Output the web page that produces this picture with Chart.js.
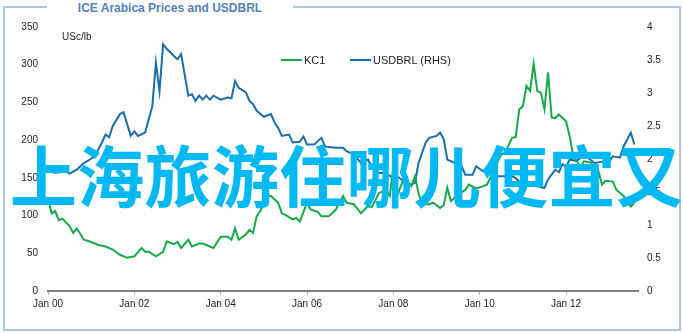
<!DOCTYPE html>
<html>
<head>
<meta charset="utf-8">
<script src="https://cdn.jsdelivr.net/npm/chart.js@4/dist/chart.umd.min.js"></script>
<style>
  body { margin: 0; background: #fff; }
  #wrap { position: relative; width: 683px; height: 333px; overflow: hidden; font-family: "Liberation Sans", Arial, sans-serif; }
  #frame { position: absolute; left: 3px; top: 6px; width: 674px; height: 321px; border: 2px solid #adc4dc; }
  #title { position: absolute; left: 47px; top: 0px; width: 246px; height: 16px; background: #fff; text-align: center;
           font: bold 12px "Liberation Sans", Arial, sans-serif; color: #5482b3; line-height: 16px; }
  #unit { position: absolute; left: 62px; top: 31px; font-size: 10px; color: #222; }
  .leg { position: absolute; top: 54px; font-size: 11px; color: #222; line-height: 13px; }
  .leg i { display: inline-block; width: 21px; height: 2px; vertical-align: middle; margin-right: 2px; margin-top: -2px; }
  #overlay { position: absolute; left: 10px; top: 139px; font: bold 67px "Noto Sans CJK SC", sans-serif; line-height: 1;
             color: #00b9f2; white-space: nowrap; letter-spacing: 0.3px; }
  canvas { position: absolute; left: 0; top: 0; }
</style>
</head>
<body>
<div id="wrap">
  <div id="frame"></div>
  <canvas id="chart" width="683" height="333"></canvas>
  <div id="title">ICE Arabica Prices and USDBRL</div>
  <div id="unit">USc/lb</div>
  <div class="leg" style="left:281px"><i style="background:#17a84b"></i>KC1</div>
  <div class="leg" style="left:350px"><i style="background:#1b6ea8"></i>USDBRL (RHS)</div>
  <div id="overlay">上海旅游住哪儿便宜又</div>
</div>
<script>
// months counted from Jan 2000
var tickMonths = [0, 24, 48, 72, 96, 120, 144];
var tickLabels = ["Jan 00", "Jan 02", "Jan 04", "Jan 06", "Jan 08", "Jan 10", "Jan 12"];

var kcMonths = [0, 1, 2, 3, 4, 6, 7, 8, 10, 12, 14, 16, 18, 20, 22, 24, 26, 27, 28, 30, 32, 33, 35, 36, 37, 39, 40, 42, 43, 45, 46, 48, 50, 51, 52, 53, 55, 56, 57, 58, 59, 61, 62, 64, 65, 66, 68, 69, 70, 72, 73, 75, 76, 78, 79, 80, 82, 83, 85, 87, 89, 90, 92, 94, 95, 96, 97, 99, 101, 102, 103, 104, 106, 107, 109, 110, 111, 112, 114, 116, 117, 119, 121, 122, 124, 125, 126, 127, 129, 130, 131, 132, 133, 134, 135, 136, 137, 138, 139, 140, 141, 142, 144, 145, 146, 148, 149, 151, 153, 154, 155, 157, 158, 160, 161, 162, 163];
var kcValues = [123, 103, 106, 94, 96, 86, 77, 83, 68, 65, 61, 59, 55, 48, 44, 46, 57, 52, 52, 46, 52, 66, 62, 65, 57, 68, 59, 63, 63, 59, 57, 72, 72, 68, 83, 68, 75, 81, 77, 99, 106, 126, 126, 117, 103, 101, 95, 97, 92, 117, 108, 105, 99, 99, 103, 108, 126, 117, 115, 103, 113, 111, 130, 134, 126, 165, 126, 150, 139, 152, 130, 115, 115, 117, 110, 114, 137, 119, 128, 134, 141, 136, 139, 141, 161, 172, 181, 183, 203, 204, 241, 245, 272, 265, 301, 265, 263, 241, 290, 230, 229, 234, 225, 205, 179, 165, 172, 170, 159, 141, 146, 145, 134, 126, 117, 112, 117];

var brlMonths = [0, 2, 5, 6, 8, 10, 11, 13, 15, 16, 17, 18, 20, 21, 23, 24, 25, 27, 29, 30, 31, 32, 33, 35, 36, 37, 39, 40, 41, 42, 43, 44, 45, 46, 48, 50, 51, 52, 53, 55, 56, 57, 58, 60, 62, 63, 64, 65, 67, 68, 70, 71, 72, 74, 76, 77, 78, 80, 82, 83, 85, 87, 89, 90, 92, 94, 96, 97, 99, 101, 102, 103, 105, 106, 108, 109, 110, 111, 113, 115, 116, 118, 119, 121, 122, 124, 125, 127, 129, 130, 132, 134, 136, 138, 139, 141, 142, 143, 144, 145, 147, 148, 150, 152, 154, 156, 157, 159, 160, 162, 163];
var brlValues = [1.81, 1.79, 1.81, 1.78, 1.84, 1.94, 1.97, 2.04, 2.25, 2.37, 2.33, 2.50, 2.68, 2.71, 2.35, 2.42, 2.35, 2.40, 2.80, 3.46, 3.03, 3.74, 3.67, 3.56, 3.51, 3.59, 2.96, 2.98, 2.88, 2.96, 2.90, 2.96, 2.90, 2.96, 2.90, 2.93, 2.92, 3.18, 3.08, 3.01, 2.88, 2.83, 2.73, 2.64, 2.68, 2.55, 2.47, 2.35, 2.37, 2.25, 2.26, 2.34, 2.22, 2.22, 2.32, 2.19, 2.18, 2.17, 2.17, 2.12, 2.07, 1.94, 1.99, 1.87, 1.79, 1.78, 1.71, 1.74, 1.66, 1.61, 1.64, 1.94, 2.25, 2.32, 2.35, 2.40, 2.30, 1.99, 1.94, 1.89, 1.76, 1.76, 1.89, 1.81, 1.82, 1.78, 1.74, 1.74, 1.74, 1.71, 1.61, 1.59, 1.59, 1.56, 1.69, 1.84, 1.80, 1.92, 1.88, 1.99, 1.97, 2.02, 2.02, 1.94, 1.96, 1.96, 2.04, 2.02, 2.19, 2.40, 2.22];

function toPoints(xs, ys) {
    var pts = [];
    for (var i = 0; i < xs.length; i++) {
        pts.push({ x: xs[i], y: ys[i] });
    }
    return pts;
};

var tickFont = { family: "'Liberation Sans', Arial, sans-serif", size: 10 };

var ctx = document.getElementById("chart").getContext("2d");
new Chart(ctx, {
    type: "line",
    data: {
        datasets: [
            {
                label: "KC1",
                data: toPoints(kcMonths, kcValues),
                borderColor: "#17a84b",
                borderWidth: 2,
                pointRadius: 0,
                tension: 0,
                yAxisID: "y"
            },
            {
                label: "USDBRL (RHS)",
                data: toPoints(brlMonths, brlValues),
                borderColor: "#1b6ea8",
                borderWidth: 2,
                pointRadius: 0,
                tension: 0,
                yAxisID: "y1"
            }
        ]
    },
    options: {
        responsive: false,
        animation: false,
        layout: { padding: { top: 27, left: 0, right: 0, bottom: 0 } },
        plugins: { legend: { display: false }, tooltip: { enabled: false } },
        scales: {
            x: {
                type: "linear",
                min: 0,
                max: 164,
                afterBuildTicks: function (scale) {
                    scale.ticks = tickMonths.map(function (v) { return { value: v }; });
                },
                afterFit: function (scale) { scale.height = 42; },
                ticks: {
                    autoSkip: false,
                    maxRotation: 0,
                    padding: 3,
                    color: "#222",
                    font: tickFont,
                    callback: function (v) {
                        var i = tickMonths.indexOf(v);
                        return i >= 0 ? tickLabels[i] : "";
                    }
                },
                grid: { display: true, drawOnChartArea: false, drawTicks: true, tickLength: 4, color: "#b0b0b0" },
                border: { display: true, color: "#808080", width: 2 }
            },
            y: {
                position: "left",
                min: 0,
                max: 350,
                afterFit: function (scale) { scale.width = 48; },
                ticks: { stepSize: 50, padding: 10, color: "#222", font: tickFont },
                grid: { display: false, drawTicks: false },
                border: { display: false }
            },
            y1: {
                position: "right",
                min: 0,
                max: 4,
                afterFit: function (scale) { scale.width = 45; },
                ticks: {
                    stepSize: 0.5,
                    padding: 9,
                    color: "#222",
                    font: tickFont,
                    callback: function (v) { return String(v); }
                },
                grid: { display: false, drawTicks: false },
                border: { display: false }
            }
        }
    }
});
</script>
</body>
</html>
